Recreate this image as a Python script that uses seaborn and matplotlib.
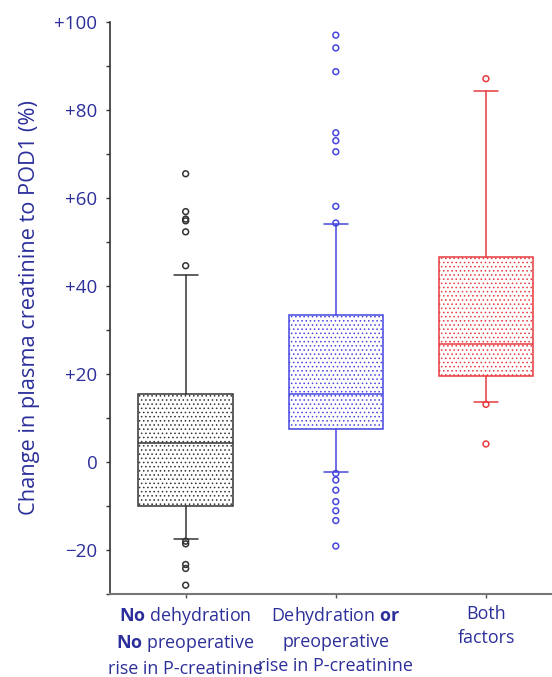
"""Boxplot of change in plasma creatinine to POD1 by risk-factor group."""
import numpy as np
import pandas as pd
import matplotlib
matplotlib.use('Agg')
import matplotlib.pyplot as plt
import seaborn as sns

# ---- data -----------------------------------------------------------------
groups = ['none', 'either', 'both']
tick_labels = [
    '$\\mathbf{No}$ dehydration\n$\\mathbf{No}$ preoperative\nrise in P-creatinine',
    'Dehydration $\\mathbf{or}$\npreoperative\nrise in P-creatinine',
    'Both\nfactors',
]
q1     = [-10.0,  7.4, 19.6]
median = [  4.3, 15.5, 26.7]
q3     = [ 15.5, 33.5, 46.6]
whislo = [-17.5, -2.2, 13.6]
whishi = [ 42.4, 54.1, 84.3]

out_none   = [65.5, 56.9, 55.2, 54.8, 52.3, 44.6, -18.0, -18.6, -23.3, -24.2, -28.0]
out_either = [97.0, 94.1, 88.7, 74.8, 73.0, 70.5, 58.1, 54.3,
              -2.6, -4.1, -6.4, -9.0, -11.1, -13.3, -19.1]
out_both   = [87.1, 13.1, 4.1]

y_ticks  = [-20, 0, 20, 40, 60, 80, 100]
y_labels = ['\u221220', '0', '+20', '+40', '+60', '+80', '+100']

colors    = ['#333333', '#4646e0', '#e63a3f']
text_blue = '#2c2f9a'

# ---- style ----------------------------------------------------------------
sns.set_style('ticks')
plt.rcParams['font.family'] = ['Open Sans', 'DejaVu Sans']
plt.rcParams['mathtext.fontset'] = 'custom'
plt.rcParams['mathtext.rm'] = 'Open Sans'
plt.rcParams['mathtext.bf'] = 'Open Sans:bold'
plt.rcParams['hatch.linewidth'] = 0.6

fig = plt.figure(figsize=(5.52, 6.77), dpi=100)
ax = fig.add_axes([0.199, 0.1226, 0.801, 0.845])

# ---- boxes ----------------------------------------------------------------
for i, c in enumerate(colors):
    stats = [{'med': median[i], 'q1': q1[i], 'q3': q3[i],
              'whislo': whislo[i], 'whishi': whishi[i], 'fliers': []}]
    ax.bxp(stats, positions=[i], widths=0.63, capwidths=0.16,
           patch_artist=True, showfliers=False, manage_ticks=False,
           boxprops=dict(facecolor='white', edgecolor=c, linewidth=1.1,
                         hatch='....'),
           whiskerprops=dict(color=c, linewidth=1.1),
           capprops=dict(color=c, linewidth=1.1),
           medianprops=dict(color=c, linewidth=1.1))

# ---- outliers -------------------------------------------------------------
out_df = pd.DataFrame({
    'group': (['none'] * len(out_none) + ['either'] * len(out_either)
              + ['both'] * len(out_both)),
    'value': out_none + out_either + out_both,
})
sns.stripplot(data=out_df, x='group', y='value', hue='group', order=groups,
              hue_order=groups, palette=colors, jitter=False, size=4.2,
              linewidth=1.1, legend=False, ax=ax)
for coll in ax.collections:
    fc = coll.get_facecolor()
    coll.set_edgecolor(fc)
    coll.set_facecolor('none')

# ---- axes -----------------------------------------------------------------
ax.set_xlim(-0.505, 2.44)
ax.set_ylim(-30, 100)
ax.set_yticks(y_ticks)
ax.set_yticklabels(y_labels)
ax.set_yticks(np.arange(-30, 101, 10), minor=True)
ax.set_xticks(range(len(groups)))
ax.set_xticklabels(tick_labels, linespacing=1.42)
ax.set_xlabel('')
ax.set_ylabel('Change in plasma creatinine to POD1 (%)', color=text_blue,
              fontsize=15.7, labelpad=10)

ax.tick_params(axis='y', which='both', direction='out', length=3, width=1,
               color='#333333', labelsize=13.5, labelcolor=text_blue, pad=6)
ax.tick_params(axis='x', direction='out', length=3, width=1,
               color='#555555', labelsize=12.9, labelcolor=text_blue, pad=5)

sns.despine(ax=ax)
ax.spines['left'].set_color('#333333')
ax.spines['bottom'].set_color('#777777')
ax.spines['left'].set_linewidth(1.2)
ax.spines['bottom'].set_linewidth(1.5)

fig.savefig('out.png', dpi=100)
